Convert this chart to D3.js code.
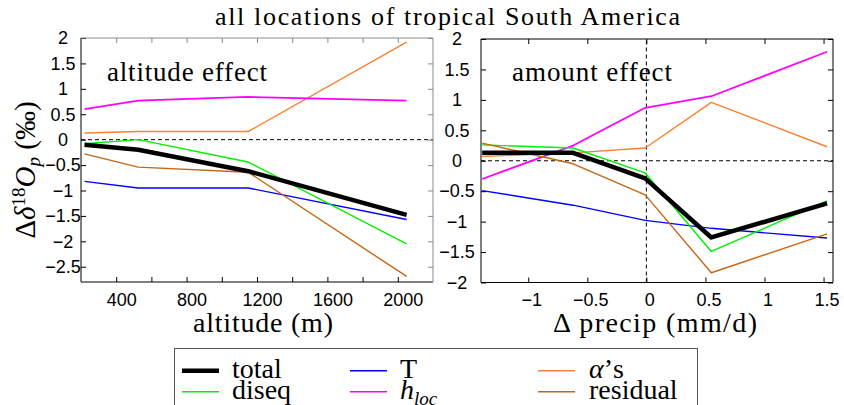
<!DOCTYPE html>
<html><head><meta charset="utf-8">
<script src="https://cdn.jsdelivr.net/npm/d3@7/dist/d3.min.js"></script>
<style>
body{margin:0;background:#fff;}
svg{display:block;}
.tick text{font-family:"Liberation Sans",Arial,sans-serif;font-size:18px;fill:#000;}
</style></head>
<body>
<svg id="chart" width="844" height="405"></svg>
<script>
// ---------- data ----------
const seriesNames = ["total","diseq","T","h_loc","alpha","residual"];
const seriesColors = ["#000000","#00f000","#0000ff","#ff00ff","#ff8030","#c8650f"];

const altitude = [220, 525, 1150, 2050];
const altTotal = [-0.10, -0.20, -0.62, -1.48];
const altDiseq = [-0.08, 0.00, -0.44, -2.05];
const altT = [-0.82, -0.95, -0.95, -1.57];
const altHloc = [0.60, 0.77, 0.84, 0.77];
const altAlpha = [0.13, 0.16, 0.16, 1.92];
const altResidual = [-0.28, -0.54, -0.64, -2.69];

const precip = [-1.39, -0.62, -0.01, 0.55, 1.53];
const prTotal = [0.13, 0.13, -0.29, -1.26, -0.70];
const prDiseq = [0.26, 0.21, -0.20, -1.49, -0.66];
const prT = [-0.49, -0.73, -0.98, -1.11, -1.27];
const prHloc = [-0.30, 0.25, 0.87, 1.06, 1.79];
const prAlpha = [0.07, 0.13, 0.21, 0.96, 0.23];
const prResidual = [0.29, -0.05, -0.56, -1.84, -1.20];

const altXTicks = [400, 600, 800, 1000, 1200, 1400, 1600, 1800, 2000];
const altXLabels = [400, 800, 1200, 1600, 2000];
const altYTicks = [-2.5, -2, -1.5, -1, -0.5, 0, 0.5, 1, 1.5, 2];
const prXTicks = [-1, -0.5, 0, 0.5, 1, 1.5];
const prYTicks = [-2, -1.5, -1, -0.5, 0, 0.5, 1, 1.5, 2];

// pick an installed serif face (falls back to generic serif if none)
function pickSerif(){
  const cands = ["Liberation Serif", "DejaVu Serif", "Tinos", "Noto Serif", "FreeSerif", "Nimbus Roman", "Times New Roman", "Times"];
  const ctx = document.createElement("canvas").getContext("2d");
  const probe = "altitude effect WMmil 0123";
  const w = f => { ctx.font = "40px " + f; return ctx.measureText(probe).width; };
  const wm = w("monospace");
  for (const c of cands) {
    const a = w(`"${c}", monospace`), b = w(`"${c}", sans-serif`);
    if (Math.abs(a - b) < 0.01 && Math.abs(a - wm) > 0.01) return `"${c}"`;
  }
  return "serif";
}
const SERIF = pickSerif();
const svg = d3.select("#chart");

function fmt(v){ return d3.format("")(v).replace("-", "\u2212"); }

function panel(opts){
  const {x, y, xs, series, xTicks, xLabels, yTicks, frameGray, labelX, xLabelDx, vzero} = opts;
  const g = svg.append("g");
  const [x0, x1] = x.range(), [y0, y1] = y.range();
  g.append("line").attr("x1", x0).attr("x2", x1).attr("y1", y(0)).attr("y2", y(0))
    .attr("stroke", "#000").attr("stroke-width", 1).attr("stroke-dasharray", "4,3");
  if (vzero) g.append("line").attr("x1", x(0)).attr("x2", x(0)).attr("y1", y0).attr("y2", y1)
    .attr("stroke", "#000").attr("stroke-width", 1).attr("stroke-dasharray", "4,3");
  const line = d3.line().x((d,i) => x(xs[i])).y(d => y(d));
  const order = [4, 3, 2, 1, 5, 0];
  order.forEach(k => {
    g.append("path").datum(series[k]).attr("d", line).attr("fill", "none")
      .attr("stroke", seriesColors[k]).attr("stroke-width", k === 0 ? 4.5 : (k === 3 ? 1.8 : 1.4))
      .attr("stroke-linejoin", "round");
  });
  const bottom = g.append("g").attr("transform", `translate(0,${y0})`)
    .call(d3.axisBottom(x).tickValues(xTicks).tickSizeInner(-5).tickSizeOuter(0).tickPadding(11)
      .tickFormat(v => xLabels.includes(v) ? fmt(v) : ""));
  bottom.selectAll("text").attr("dx", xLabelDx);
  const top = g.append("g").attr("transform", `translate(0,${y1})`)
    .call(d3.axisTop(x).tickValues(xTicks).tickSizeInner(-5).tickSizeOuter(0).tickFormat(""));
  const left = g.append("g").attr("transform", `translate(${x0},0)`)
    .call(d3.axisLeft(y).tickValues(yTicks).tickSizeInner(-5).tickSizeOuter(0).tickFormat(fmt));
  left.selectAll("text").attr("text-anchor", "middle").attr("x", -labelX);
  const right = g.append("g").attr("transform", `translate(${x1},0)`)
    .call(d3.axisRight(y).tickValues(yTicks).tickSizeInner(-5).tickSizeOuter(0).tickFormat(""));
  [bottom, left].forEach(a => { a.select(".domain").remove(); a.selectAll("line").attr("stroke", "#000"); });
  [top, right].forEach(a => { a.select(".domain").remove(); a.selectAll("line").attr("stroke", frameGray ? "#8a8a8a" : "#000"); });
  const fc = frameGray ? "#8a8a8a" : "#000";
  g.append("line").attr("x1", x0).attr("x2", x1).attr("y1", y0).attr("y2", y0).attr("stroke", "#000");
  g.append("line").attr("x1", x0).attr("x2", x0).attr("y1", y0).attr("y2", y1).attr("stroke", "#000");
  g.append("line").attr("x1", x0).attr("x2", x1).attr("y1", y1).attr("y2", y1).attr("stroke", fc);
  g.append("line").attr("x1", x1).attr("x2", x1).attr("y1", y0).attr("y2", y1).attr("stroke", fc);
  return g;
}

const xAlt = d3.scaleLinear().domain([200, 2200]).range([81, 433]);
const yAlt = d3.scaleLinear().domain([-2.8, 2]).range([282, 38]);
panel({x: xAlt, y: yAlt, xs: altitude,
  series: [altTotal, altDiseq, altT, altHloc, altAlpha, altResidual],
  xTicks: altXTicks, xLabels: altXLabels, yTicks: altYTicks, frameGray: true, labelX: 18, xLabelDx: 5});

const xPr = d3.scaleLinear().domain([-1.4, 1.58]).range([481, 833]);
const yPr = d3.scaleLinear().domain([-2, 2]).range([282.5, 39]);
panel({x: xPr, y: yPr, xs: precip,
  series: [prTotal, prDiseq, prT, prHloc, prAlpha, prResidual],
  xTicks: prXTicks, xLabels: prXTicks, yTicks: prYTicks, frameGray: false, labelX: 24, xLabelDx: 3, vzero: true});

function serifText(txt, x, y, size, len){
  const t = svg.append("text").attr("x", x).attr("y", y)
    .style("font-family", SERIF).attr("fill", "#000")
    .attr("font-size", size).text(txt);
  if (len) t.attr("textLength", len).attr("lengthAdjust", "spacing");
  return t;
}
serifText("all locations of tropical South America", 215, 25, 26, 465);
serifText("altitude effect", 107, 81, 27, 160);
serifText("amount effect", 512, 81, 27, 160);
serifText("altitude (m)", 193, 332, 28, 140);
serifText("\u0394 precip (mm/d)", 553, 332, 28, 204);

const yl = svg.append("text").style("font-family", SERIF).attr("font-size", 29)
  .attr("transform", "translate(35,170) rotate(-90)").attr("text-anchor", "middle");
yl.append("tspan").text("\u0394");
yl.append("tspan").attr("font-style", "italic").text("\u03b4");
yl.append("tspan").attr("font-size", 19).attr("baseline-shift", "10").text("18");
yl.append("tspan").attr("font-style", "italic").text("O");
yl.append("tspan").attr("font-size", 19).attr("font-style", "italic").attr("baseline-shift", "-5").text("p");
yl.append("tspan").text(" (\u2030)");

svg.append("rect").attr("x", 174.5).attr("y", 348.5).attr("width", 523).attr("height", 70)
  .attr("fill", "#fff").attr("stroke", "#555").attr("stroke-width", 1);
const legCols = [[182, 232], [350, 400], [538, 589]];
const legRows = [370.7, 391.7];
const legPos = [[0,0],[0,1],[1,0],[1,1],[2,0],[2,1]];
seriesNames.forEach((name, k) => {
  const [c, r] = legPos[k];
  const [lx, tx] = legCols[c];
  const ly = legRows[r];
  svg.append("line").attr("x1", lx).attr("x2", lx + 37).attr("y1", ly).attr("y2", ly)
    .attr("stroke", seriesColors[k]).attr("stroke-width", k === 0 ? 4.5 : 1.6);
  const t = svg.append("text").style("font-family", SERIF).attr("fill", "#000")
    .attr("font-size", 28).attr("x", tx).attr("y", ly + 7);
  if (name === "h_loc") {
    t.append("tspan").attr("font-style", "italic").text("h");
    t.append("tspan").attr("font-style", "italic").attr("font-size", 19).attr("baseline-shift", "-6").text("loc");
  } else if (name === "alpha") {
    t.append("tspan").attr("font-style", "italic").text("\u03b1");
    t.append("tspan").text("\u2019s");
  } else {
    t.text(name);
  }
});
</script>
</body></html>
